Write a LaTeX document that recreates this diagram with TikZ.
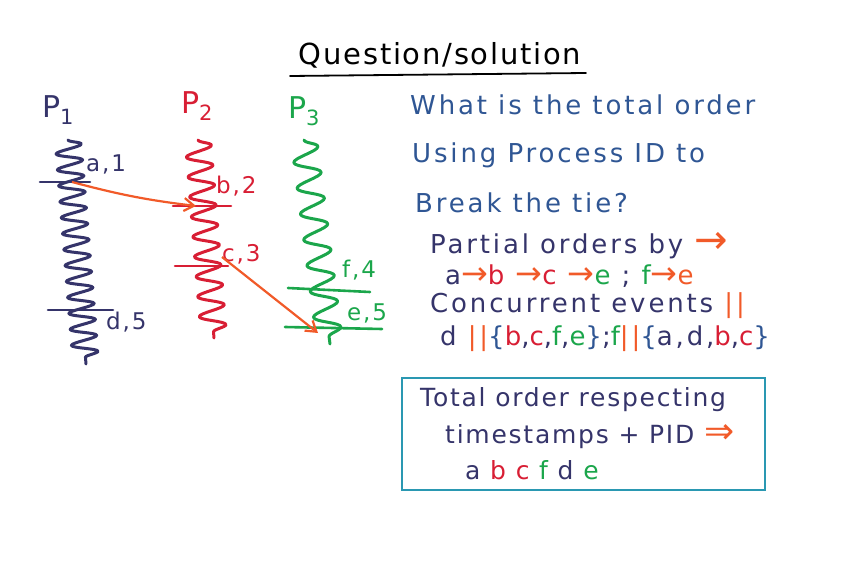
\documentclass[tikz,border=0pt]{standalone}
\usepackage{fontspec}
\setmainfont{DejaVu Sans}
\usetikzlibrary{arrows.meta,decorations.pathmorphing}

\definecolor{ink}{HTML}{35346A}
\definecolor{pred}{HTML}{D81E34}
\definecolor{pgreen}{HTML}{1BA64B}
\definecolor{porange}{HTML}{F15A29}
\definecolor{qblue}{HTML}{2F5694}
\definecolor{boxteal}{HTML}{2A98B2}

\newcommand{\hand}{\fontsize{26}{30}\selectfont\addfontfeature{LetterSpace=11}}
\newcommand{\boxhand}{\fontsize{25}{30}\selectfont\addfontfeature{LetterSpace=7}}
\newcommand{\evfont}{\fontsize{23}{26}\selectfont\addfontfeature{LetterSpace=8}}
\newcommand{\ora}[1]{\textcolor{porange}{#1}}
\newcommand{\rd}[1]{\textcolor{pred}{#1}}
\newcommand{\gr}[1]{\textcolor{pgreen}{#1}}
\newcommand{\bl}[1]{\textcolor{qblue}{#1}}
\newcommand{\arr}{{\fontsize{32}{30}\selectfont\ora{→}}}
\newcommand{\bigarr}{{\fontsize{40}{30}\selectfont\ora{→}}}
\newcommand{\dblarr}{{\fontsize{36}{30}\selectfont\ora{⇒}}}

\begin{document}
\begin{tikzpicture}[x=1pt, y=-1pt,
    proc/.style={line width=3pt, line cap=round, line join=round, decorate,
        decoration={snake, amplitude=13pt, segment length=#1}},
    tick/.style={line width=2.6pt, line cap=round},
    msg/.style={-{Straight Barb[length=10pt,width=13pt]}, line width=2.2pt, porange},
    lbl/.style={font=\evfont, anchor=west, inner sep=0pt},
    line/.style={font=\hand, anchor=west, inner sep=0pt},
    boxline/.style={font=\boxhand, anchor=west, inner sep=0pt},
    plbl/.style={font=\fontsize{30}{32}\selectfont, inner sep=0pt},
]
    \useasboundingbox (0,0) rectangle (862,577);

    % title
    \node[font=\fontsize{29}{32}\selectfont\addfontfeature{LetterSpace=6}, inner sep=0pt] (title) at (440,55) {Question/solution};
    \draw[line width=1.8pt, line cap=round] (290,76) -- (586,73);

    % process names
    \node[plbl, ink] (p1lbl) at (58,110) {P\textsubscript{1}};
    \node[plbl, pred] (p2lbl) at (197,106) {P\textsubscript{2}};
    \node[plbl, pgreen] (p3lbl) at (304,111) {P\textsubscript{3}};

    % time lines
    \coordinate (p1top) at (68,140);
    \coordinate (p1bot) at (86,364);
    \coordinate (p2top) at (198,140);
    \coordinate (p2bot) at (214,338);
    \coordinate (p3top) at (304,140);
    \coordinate (p3bot) at (330,344);
    \draw[proc=16pt, ink] (p1top) -- (p1bot);
    \draw[proc=20pt, pred] (p2top) -- (p2bot);
    \draw[proc=26pt, pgreen] (p3top) -- (p3bot);

    % events
    \coordinate (a) at (72,182);
    \coordinate (d) at (80,310);
    \coordinate (b) at (196,206);
    \coordinate (c) at (204,266);
    \coordinate (f) at (322,290);
    \coordinate (e) at (320,327);
    \draw[tick, ink] ([xshift=-32pt]a) -- ([xshift=18pt]a);
    \draw[tick, ink] ([xshift=-32pt]d) -- ([xshift=33pt]d);
    \draw[tick, pred] ([xshift=-23pt]b) -- ([xshift=35pt]b);
    \draw[tick, pred] ([xshift=-29pt]c) -- ([xshift=24pt]c);
    \draw[tick, pgreen] ([xshift=-34pt,yshift=2pt]f) -- ([xshift=48pt,yshift=-2pt]f);
    \draw[tick, pgreen] ([xshift=-35pt]e) -- ([xshift=62pt,yshift=-2pt]e);

    \node[lbl, ink] (alab) at (86,164) {a,1};
    \node[lbl, ink] (dlab) at (106,322) {d,5};
    \node[lbl, pred] (blab) at (216,186) {b,2};
    \node[lbl, pred] (clab) at (222,254) {c,3};
    \node[lbl, pgreen] (flab) at (342,270) {f,4};
    \node[lbl, pgreen] (elab) at (347,313) {e,5};

    % messages
    \draw[msg] (a) to[bend left=-4] (b);
    \draw[msg] ([xshift=18pt,yshift=9pt]c) -- ([xshift=-2pt,yshift=-6pt]e);

    % question
    \node[line, qblue] (q1) at (410,105) {What is the total order};
    \node[line, qblue] (q2) at (412,155) {Using Process ID to};
    \node[line, qblue] (q3) at (415,203) {Break the tie?};

    % partial orders and concurrency
    \node[line, ink] (po) at (430,246) {Partial orders by \bigarr};
    \node[line, ink] (chain) at (445,276) {a\arr\rd{b} \arr\rd{c} \arr\gr{e} ; \gr{f}\arr\ora{e}};
    \node[line, ink] (conc) at (430,306) {Concurrent events \ora{||}};
    \node[line, ink] (sets) at (440,339) {d \ora{||}\bl{\{}\rd{b},\rd{c},\gr{f},\gr{e}\bl{\}};\gr{f}\ora{||}\bl{\{}a,d,\rd{b},\rd{c}\bl{\}}};

    % answer box
    \draw[boxteal, line width=2.4pt] (402,378) rectangle (765,490);
    \node[boxline, ink] (tot1) at (420,400) {Total order respecting};
    \node[boxline, ink] (tot2) at (445,437) {timestamps + PID \dblarr};
    \node[boxline, ink] (tot3) at (465,470) {a \rd{b} \rd{c} \gr{f} d \gr{e}};
\end{tikzpicture}
\end{document}
